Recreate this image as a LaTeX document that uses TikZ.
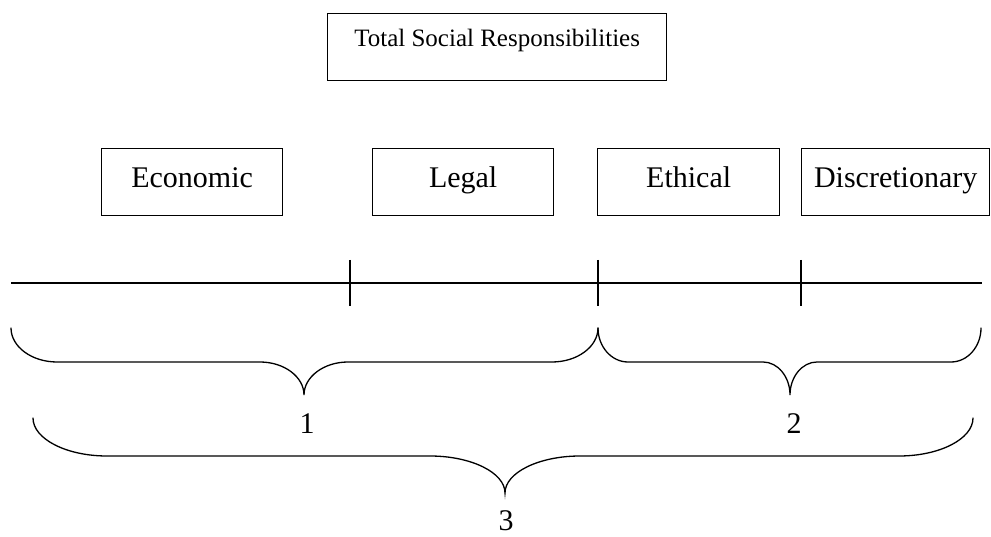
\documentclass[tikz,border=0pt]{standalone}
\usepackage{fontspec}
\setmainfont{Liberation Serif}
% #1 left x, #2 right x, #3 tip x, #4 top y, #5 horizontal y, #6 tip y, #7 end curve width, #8 tip curve width
\newcommand{\mybrace}[8]{%
  \draw[bracestyle] (#1,#4) .. controls (#1,{#4+0.55*(#5-#4)}) and ({#1+0.45*#7},#5) .. ({#1+#7},#5)
    -- ({#3-#8},#5) .. controls ({#3-0.45*#8},#5) and (#3,{#5+0.45*(#6-#5)}) .. (#3,#6)
    .. controls (#3,{#5+0.45*(#6-#5)}) and ({#3+0.45*#8},#5) .. ({#3+#8},#5)
    -- ({#2-#7},#5) .. controls ({#2-0.45*#7},#5) and (#2,{#4+0.55*(#5-#4)}) .. (#2,#4);}
\begin{document}
\begin{tikzpicture}[x=1pt,y=-1pt,line width=1.3pt,
  boxstyle/.style={draw, inner sep=0pt, font=\fontsize{30}{36}\selectfont, text height=39pt, text depth=28pt, anchor=north west},
  titlestyle/.style={draw, inner sep=0pt, font=\fontsize{25}{30}\selectfont, text height=33pt, text depth=34pt, anchor=north west, minimum width=339pt},
  numstyle/.style={font=\fontsize{30}{36}\selectfont, anchor=base, inner sep=0pt},
  bracestyle/.style={line width=1.3pt, line cap=round},
  scalestyle/.style={line width=1.3pt}]
\useasboundingbox (0,0) rectangle (991,537);
\fill[white] (0,0) rectangle (991,537);
% title
\node[titlestyle] (title) at (327,13) {Total Social Responsibilities};
% category boxes
\node[boxstyle, minimum width=181pt] (econ) at (101,148) {Economic};
\node[boxstyle, minimum width=181pt] (legal) at (372,148) {Legal};
\node[boxstyle, minimum width=182pt] (ethic) at (597,148) {Ethical};
\node[boxstyle, minimum width=188pt] (disc) at (801,148) {Discretionary};
% scale line with ticks
\coordinate (ls) at (11,283);
\coordinate (le) at (982,283);
\draw[scalestyle] (ls) -- (le);
\coordinate (t1a) at (350,260); \coordinate (t1b) at (350,306);
\coordinate (t2a) at (598,260); \coordinate (t2b) at (598,306);
\coordinate (t3a) at (801,260); \coordinate (t3b) at (801,306);
\draw[scalestyle] (t1a) -- (t1b);
\draw[scalestyle] (t2a) -- (t2b);
\draw[scalestyle] (t3a) -- (t3b);
% braces
\mybrace{11}{598}{304}{328}{362}{395}{46}{44}
\mybrace{598}{981}{790}{328}{362}{395}{30}{27}
\mybrace{33}{973}{505}{418}{456}{493}{74}{75}
% labels
\node[numstyle] (n1) at (307,433) {1};
\node[numstyle] (n2) at (794,433) {2};
\node[numstyle] (n3) at (506,530) {3};
\end{tikzpicture}
\end{document}
